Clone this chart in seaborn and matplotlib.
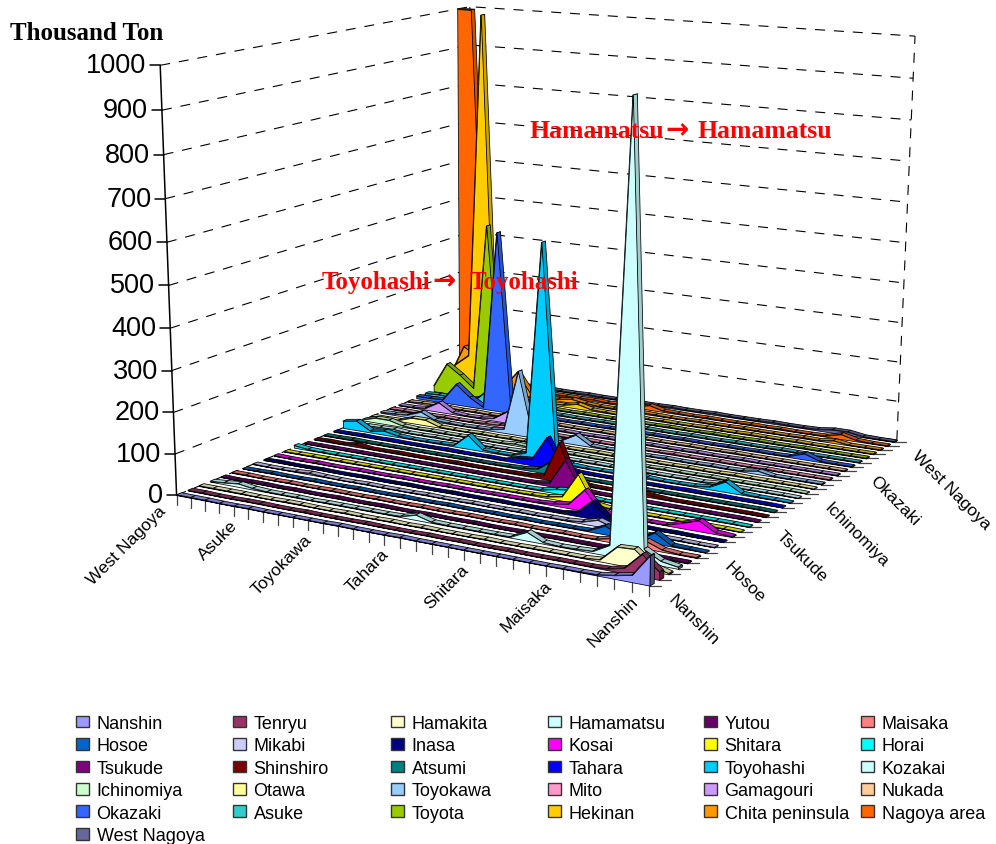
import numpy as np
import matplotlib
matplotlib.use("Agg")
import matplotlib.pyplot as plt
from matplotlib.collections import PolyCollection
from matplotlib.patches import Patch
import seaborn as sns

sns.set_theme(style="white")
plt.rcParams["font.family"] = ["Liberation Sans", "DejaVu Sans"]

#dados
nomes = ["Nanshin", "Tenryu", "Hamakita", "Hamamatsu", "Yutou", "Maisaka", "Hosoe", "Mikabi",
         "Inasa", "Kosai", "Shitara", "Horai", "Tsukude", "Shinshiro", "Atsumi", "Tahara",
         "Toyohashi", "Kozakai", "Ichinomiya", "Otawa", "Toyokawa", "Mito", "Gamagouri", "Nukada",
         "Okazaki", "Asuke", "Toyota", "Hekinan", "Chita peninsula", "Nagoya area", "West Nagoya"]

cores = ["#9999FF", "#993366", "#FFFFCC", "#CCFFFF", "#660066", "#FF8080", "#0066CC", "#CCCCFF",
         "#000080", "#FF00FF", "#FFFF00", "#00FFFF", "#800080", "#800000", "#008080", "#0000FF",
         "#00CCFF", "#CCFFFF", "#CCFFCC", "#FFFF99", "#99CCFF", "#FF99CC", "#CC99FF", "#FFCC99",
         "#3366FF", "#33CCCC", "#99CC00", "#FFCC00", "#FF9900", "#FF6600", "#666699"]

#valores da esquerda (West Nagoya) para a direita (Nanshin)
nanshin = [1,1,1,0,0,1,0,0,0,0, 0,1,0,0,0,1,0,0,0,0, 0,0,0,0,0,1,1,2,8,16,66]
tenryu = [1,1,0,0,1,1,0,0,1,0, 0,0,1,0,0,0,1,0,1,0, 0,1,0,0,1,1,1,3,12,50,18]
hamakita = [1,1,1,1,0,0,1,1,0,0, 1,0,0,1,0,1,0,0,0,1, 0,0,1,1,1,1,4,40,42,12,2]
hamamatsu = [1,4,8,3,1,1,1,0,1,1, 1,1,1,2,12,2,1,1,1,1, 2,20,3,1,2,4,25,1000,30,10,4]
yutou = [1,0,1,1,0,1,0,0,1,0, 0,1,0,0,1,0,0,1,0,0, 1,0,1,1,1,1,10,2,1,1,1]
maisaka = [1,1,0,0,1,0,0,1,0,0, 1,0,0,1,0,0,1,0,0,1, 0,0,1,0,1,10,3,18,4,1,1]
hosoe = [0,0,1,0,0,1,0,0,1,0, 0,1,0,0,1,0,0,1,0,1, 0,1,1,2,20,4,1,25,2,1,0]
mikabi = [1,0,0,1,3,1,0,0,1,0, 0,0,1,0,0,1,0,0,1,0, 1,1,4,15,3,1,1,1,1,0,0]
inasa = [0,1,0,0,1,0,0,1,0,0, 1,0,0,1,0,0,1,0,1,1, 1,6,40,10,1,1,0,1,0,0,0]
kosai = [1,0,0,1,0,0,1,0,0,1, 0,0,1,0,0,1,1,1,1,4, 10,50,6,1,1,1,1,12,25,4,1]
shitara = [1,1,1,1,1,1,1,1,1,1, 1,1,1,1,1,1,1,2,3,10, 70,6,1,1,1,1,1,1,1,1,0]
horai = [6,2,1,1,1,1,1,1,1,1, 1,1,1,1,1,1,1,2,10,15, 4,1,1,1,1,1,1,1,1,1,0]
tsukude = [1,1,1,1,1,1,1,1,1,1, 1,1,1,1,1,1,2,8,70,4, 1,1,1,1,1,1,1,1,1,1,0]
shinshiro = [1,2,1,6,1,1,2,1,1,1, 2,1,1,1,2,3,8,95,8,2, 1,1,8,4,1,1,1,1,1,1,0]
atsumi = [1,1,2,1,1,1,1,1,1,1, 1,1,1,2,3,8,35,4,1,1, 1,1,1,1,1,1,1,1,1,1,0]
tahara = [1,1,2,1,2,1,1,1,2,1, 1,2,1,12,15,75,8,2,1,1, 1,1,1,1,2,1,2,1,1,1,0]
toyohashi = [18,24,4,10,3,1,1,2,3,35, 4,2,2,15,540,20,3,1,1,2, 15,3,1,1,2,6,25,3,1,1,0]
kozakai = [1,2,3,4,1,1,2,1,1,2, 1,1,2,6,3,1,1,2,1,1, 2,1,1,2,1,4,1,1,1,1,0]
ichinomiya = [2,12,12,3,1,2,1,1,2,1, 1,4,2,1,1,2,1,1,2,1, 1,2,1,1,2,1,1,1,1,1,0]
otawa = [1,1,2,14,14,2,1,1,2,1, 2,1,1,2,1,1,2,1,1,2, 1,1,2,1,1,2,1,1,1,1,0]
toyokawa = [2,3,6,20,4,2,1,2,3,10, 165,6,3,4,25,3,1,2,1,1, 2,1,1,2,1,2,8,1,1,1,1]
mito = [1,2,1,1,2,1,1,3,4,12, 3,2,1,1,2,1,1,2,1,1, 2,1,1,2,1,1,2,1,1,1,1]
gamagouri = [1,1,4,25,4,1,2,6,30,4, 2,1,2,1,1,2,1,1,2,1, 1,2,1,1,2,1,1,1,1,1,1]
nukada = [1,3,4,2,1,2,1,2,4,2, 1,2,1,1,2,1,1,2,1,1, 2,1,1,2,1,1,1,1,1,1,1]
okazaki = [6,6,8,55,25,4,470,10,3,2, 2,1,2,1,2,1,1,2,1,2, 1,1,2,1,2,1,2,15,2,1,1]
asuke = [4,6,4,4,15,50,6,3,2,1, 2,1,1,2,1,1,2,1,1,2, 1,1,2,1,1,2,1,1,1,1,1]
toyota = [15,80,55,25,465,15,4,3,2,2, 1,2,1,1,2,1,1,2,1,1, 2,1,1,2,1,1,2,1,1,1,1]
hekinan = [25,70,100,1000,25,6,4,3,3,4, 12,3,2,1,2,1,2,1,1,2, 1,1,2,1,1,2,1,1,1,1,1]
chita = [30,110,90,20,15,60,8,4,4,10, 4,2,2,1,3,2,1,1,2,1, 1,2,1,1,1,2,1,6,1,1,1]
nagoya = [1000,1000,60,20,8,6,4,3,3,3, 4,2,3,2,12,3,2,1,2,1, 1,2,1,2,1,1,2,12,3,1,1]
west_nagoya = [4,4,3,3,2,2,3,2,2,3, 2,2,3,2,2,3,2,2,3,2, 2,2,3,2,2,3,8,8,2,1,1]

valores = [nanshin, tenryu, hamakita, hamamatsu, yutou, maisaka, hosoe, mikabi, inasa, kosai,
           shitara, horai, tsukude, shinshiro, atsumi, tahara, toyohashi, kozakai, ichinomiya,
           otawa, toyokawa, mito, gamagouri, nukada, okazaki, asuke, toyota, hekinan, chita,
           nagoya, west_nagoya]

y_ticks = [0, 100, 200, 300, 400, 500, 600, 700, 800, 900, 1000]
x_labels = ["West Nagoya", "Asuke", "Toyokawa", "Tahara", "Shitara", "Maisaka", "Nanshin"]
d_labels = ["Nanshin", "Hosoe", "Tsukude", "Ichinomiya", "Okazaki", "West Nagoya"]

#perspectiva: ajusta a camera pelos cantos da caixa (x, profundidade, z) -> pixel
PROF = 30.45
cantos = [(0, 0, 0, 178, 497), (30, 0, 0, 648, 587), (30, PROF, 0, 898, 440), (0, PROF, 0, 470, 377),
          (0, 0, 1000, 160, 65), (0, PROF, 1000, 470, 8), (30, PROF, 1000, 915, 38)]
linhas = []
for X, Y, Z, u, v in cantos:
    linhas.append([X, Y, Z, 1, 0, 0, 0, 0, -u*X, -u*Y, -u*Z, -u])
    linhas.append([0, 0, 0, 0, X, Y, Z, 1, -v*X, -v*Y, -v*Z, -v])
escala = np.array([1/30, 1/PROF, 1/1000, 1])
A = np.array(linhas) * np.concatenate([escala, escala, escala])
camera = np.linalg.svd(A)[2][-1] * np.concatenate([escala, escala, escala])
camera = camera.reshape(3, 4)


def proj(x, d, z):
    p = camera @ np.array([x, d, z, 1.0])
    return p[0] / p[2], p[1] / p[2]


fig = plt.figure(figsize=(9.96, 8.45), dpi=100)
ax = fig.add_axes([0, 0, 1, 1])
ax.set_xlim(0, 996)
ax.set_ylim(845, 0)
ax.axis("off")

#paredes tracejadas
tracejado = (0, (9, 8))
for z in y_ticks:
    pts = [proj(0, 0, z), proj(0, PROF, z), proj(30, PROF, z)]
    ax.plot(*zip(*pts), color="black", lw=0.8, ls=tracejado, zorder=1)
ax.plot(*zip(proj(30, PROF, 0), proj(30, PROF, 1000)), color="black", lw=0.8, ls=tracejado, zorder=1)
ax.plot(*zip(proj(0, PROF, 0), proj(0, PROF, 1000)), color="black", lw=0.8, ls=tracejado, zorder=1)

#eixo vertical
ax.plot(*zip(proj(0, 0, 0), proj(0, 0, 1000)), color="black", lw=1.1, zorder=1)
for z in y_ticks:
    u, v = proj(0, 0, z)
    ax.plot([u - 10, u], [v, v], color="black", lw=1.1, zorder=1)
    ax.text(u - 14, v, str(z), ha="right", va="center", fontsize=19.5, color="black")

#series de tras para a frente
paleta = sns.color_palette(cores)
x = np.arange(31)
z_atual = 2
for s in range(30, -1, -1):
    val = np.array(valores[s], dtype=float)
    d1 = s
    d2 = s + 0.45
    cor = np.array(paleta[s])
    escura = cor * 0.8
    topo = []
    for i in range(30):
        topo.append([proj(x[i], d1, val[i]), proj(x[i+1], d1, val[i+1]),
                     proj(x[i+1], d2, val[i+1]), proj(x[i], d2, val[i])])
    ax.add_collection(PolyCollection(topo, facecolors=[escura], edgecolors="black", linewidths=0.55, zorder=z_atual))
    tampa = [proj(30, d1, 0), proj(30, d1, val[30]), proj(30, d2, val[30]), proj(30, d2, 0)]
    ax.add_collection(PolyCollection([tampa], facecolors=[cor * 0.5], edgecolors="black", linewidths=0.55, zorder=z_atual + 0.1))
    frente = [proj(0, d1, 0)] + [proj(x[i], d1, val[i]) for i in range(31)] + [proj(30, d1, 0)]
    ax.add_collection(PolyCollection([frente], facecolors=[cor], edgecolors="black", linewidths=0.55, zorder=z_atual + 0.2))
    z_atual += 1

#ticks e rotulos do eixo x
for i in range(31):
    u, v = proj(i, 0, 0)
    ax.plot([u, u], [v, v + 10], color="#444444", lw=0.9, zorder=1)
for k, nome in enumerate(x_labels):
    u, v = proj(k * 5, 0, 0)
    ax.text(u - 19, v + 8, nome, rotation=45, rotation_mode="anchor", ha="right", va="top", fontsize=12.5, color="black")

#ticks e rotulos do eixo de profundidade
for s in range(31):
    u, v = proj(30, s, 0)
    ax.plot([u, u + 12], [v, v], color="#444444", lw=0.9, zorder=1)
for k, nome in enumerate(d_labels):
    u, v = proj(30, k * 6, 0)
    ax.text(u + 21, v + 11, nome, rotation=-45, rotation_mode="anchor", ha="left", va="center", fontsize=12.5, color="black")

#titulo do eixo e anotacoes
serif = ["Liberation Serif", "DejaVu Sans"]
ax.text(10, 33, "Thousand Ton", family=serif, weight="bold", fontsize=18, color="black", va="center")
for texto, xt in [("Hamamatsu", 529), ("Hamamatsu", 698)]:
    ax.text(xt, 132, texto, family=serif, weight="bold", fontsize=18.5, color="red", va="center", zorder=60)
ax.text(665, 130, "→", family="DejaVu Sans", weight="bold", fontsize=20, color="red", va="center", zorder=60)
for texto, xt in [("Toyohashi", 322), ("Toyohashi", 470)]:
    ax.text(xt, 283, texto, family=serif, weight="bold", fontsize=18, color="red", va="center", zorder=60)
ax.text(432, 281, "→", family="DejaVu Sans", weight="bold", fontsize=20, color="red", va="center", zorder=60)

#legenda: uma por coluna, para ter o espaco fixo do original
x_col = [76, 233, 391, 548, 704, 861]
for c in range(6):
    idx = list(range(c, 31, 6))
    handles = [Patch(facecolor=paleta[k], edgecolor="#333333", lw=1) for k in idx]
    leg = ax.legend(handles, [nomes[k] for k in idx], loc="upper left", bbox_to_anchor=(x_col[c], 716),
                    bbox_transform=ax.transData, frameon=False, borderaxespad=0, borderpad=0,
                    fontsize=13, handlelength=0.7, handleheight=0.62, handletextpad=0.44,
                    labelspacing=0.3, labelcolor="black")
    ax.add_artist(leg)
ax.legend_ = None

plt.savefig("out.png", dpi=100)
